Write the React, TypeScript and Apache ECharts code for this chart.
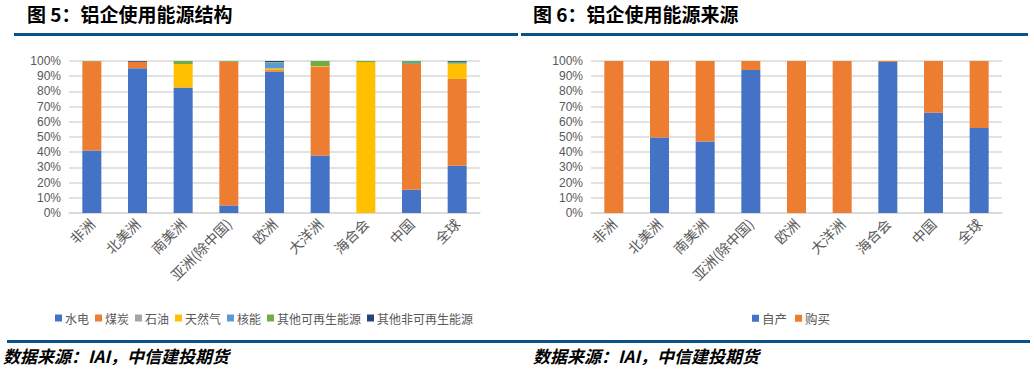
import React, { useEffect, useRef } from "react";
import * as echarts from "echarts";

const regions = ["非洲", "北美洲", "南美洲", "亚洲(除中国)", "欧洲", "大洋洲", "海合会", "中国", "全球"];

const energyNames = ["水电", "煤炭", "石油", "天然气", "核能", "其他可再生能源", "其他非可再生能源"];
const hydro = [41.1, 95.3, 82.5, 5.0, 92.9, 37.9, 0, 15.3, 31.1];
const coal = [58.7, 4.2, 0, 94.5, 1.1, 58.3, 0, 82.7, 57.1];
const oil = [0, 0, 0, 0, 0, 0, 0, 0, 0];
const gas = [0, 0, 15.5, 0, 1.1, 0.4, 99.3, 0, 9.8];
const nuclear = [0, 0, 0, 0, 3.8, 0, 0, 0.6, 0.4];
const otherRenew = [0.2, 0, 2.0, 0.5, 0.4, 3.4, 0.7, 1.4, 1.1];
const otherNonRenew = [0, 0.5, 0, 0, 0.7, 0, 0, 0, 0.5];
const energyValues = [hydro, coal, oil, gas, nuclear, otherRenew, otherNonRenew];
const energyColors = ["#4472C4", "#ED7D31", "#A5A5A5", "#FFC000", "#5B9BD5", "#70AD47", "#264478"];

const sourceNames = ["自产", "购买"];
const selfProduced = [0, 49.7, 47.0, 94.1, 0, 0, 99.3, 65.9, 56.0];
const purchased = [100, 50.3, 53.0, 5.9, 100, 100, 0.7, 34.1, 44.0];
const sourceValues = [selfProduced, purchased];
const sourceColors = ["#4472C4", "#ED7D31"];

const yTicks = { min: 0, max: 100, interval: 10 };

const GRAY = "#595959";
const GRID = "#D9D9D9";
const BLUE_LINE = "#0D5286";
const FONT = "'Liberation Sans', 'Noto Sans CJK SC', sans-serif";
const CJK = "'Noto Sans CJK SC', sans-serif";

export default function App() {
  const ref = useRef<HTMLDivElement>(null);
  useEffect(() => {
    if (!ref.current) return;
    const chart = echarts.init(ref.current, undefined, { renderer: "svg" });
    const xAxisBase = (gridIndex: number) => ({
      type: "category" as const,
      gridIndex,
      data: regions,
      axisLine: { lineStyle: { color: GRID, width: 1.5 } },
      axisTick: { show: false },
      axisLabel: { rotate: 45, fontSize: 14, color: GRAY, margin: 8, fontFamily: CJK, interval: 0 },
    });
    const yAxisBase = (gridIndex: number) => ({
      type: "value" as const,
      gridIndex,
      min: yTicks.min,
      max: yTicks.max,
      interval: yTicks.interval,
      axisLine: { show: false },
      axisTick: { show: false },
      axisLabel: { formatter: "{value}%", fontSize: 12, color: GRAY, margin: 8, fontFamily: FONT },
      splitLine: { lineStyle: { color: GRID, width: 1.5 } },
    });
    const series: any[] = [];
    energyNames.forEach((n, i) => {
      series.push({
        type: "bar",
        name: n,
        stack: "energy",
        xAxisIndex: 0,
        yAxisIndex: 0,
        barWidth: 19,
        data: energyValues[i],
        itemStyle: { color: energyColors[i] },
      });
    });
    sourceNames.forEach((n, i) => {
      series.push({
        type: "bar",
        name: n,
        stack: "source",
        xAxisIndex: 1,
        yAxisIndex: 1,
        barWidth: 19,
        data: sourceValues[i],
        itemStyle: { color: sourceColors[i] },
      });
    });
    const titleStyle = { fontSize: 19, fontWeight: "bold", fill: "#000", fontFamily: CJK };
    const footStyle = { fontSize: 17, fontWeight: "bold", fontStyle: "italic", fill: "#000", fontFamily: CJK };
    chart.setOption({
      animation: false,
      grid: [
        { left: 69, right: 554, top: 61, bottom: 160 },
        { left: 591, right: 32, top: 61, bottom: 160 },
      ],
      xAxis: [xAxisBase(0), xAxisBase(1)],
      yAxis: [yAxisBase(0), yAxisBase(1)],
      legend: [
        {
          data: energyNames,
          left: 50,
          top: 307,
          orient: "horizontal",
          icon: "rect",
          itemWidth: 7,
          itemHeight: 7,
          itemGap: 6,
          textStyle: { fontSize: 12, color: GRAY, fontFamily: CJK, padding: [0, 0, 0, -2] },
          selectedMode: false,
        },
        {
          data: sourceNames,
          left: 747,
          top: 307,
          icon: "rect",
          itemWidth: 7,
          itemHeight: 7,
          itemGap: 8,
          textStyle: { fontSize: 12.5, color: GRAY, fontFamily: CJK, padding: [0, 0, 0, -2] },
          selectedMode: false,
        },
      ],
      graphic: [
        { type: "text", left: 27, top: 4, style: { text: "图 5：铝企使用能源结构", ...titleStyle } },
        { type: "text", left: 533, top: 4, style: { text: "图 6：铝企使用能源来源", ...titleStyle } },
        { type: "rect", shape: { x: 14, y: 33, width: 504, height: 3 }, style: { fill: BLUE_LINE } },
        { type: "rect", shape: { x: 521, y: 33, width: 507, height: 3 }, style: { fill: BLUE_LINE } },
        { type: "rect", shape: { x: 7, y: 340, width: 1023, height: 3 }, style: { fill: BLUE_LINE } },
        { type: "text", left: 3, top: 347, style: { text: "数据来源：IAI，中信建投期货", ...footStyle } },
        { type: "text", left: 533, top: 347, style: { text: "数据来源：IAI，中信建投期货", ...footStyle } },
      ],
      series,
    });
    return () => chart.dispose();
  }, []);
  return (
    <div
      ref={ref}
      style={{ position: "absolute", left: 0, top: 0, width: 1034, height: 373, background: "#fff" }}
    />
  );
}
